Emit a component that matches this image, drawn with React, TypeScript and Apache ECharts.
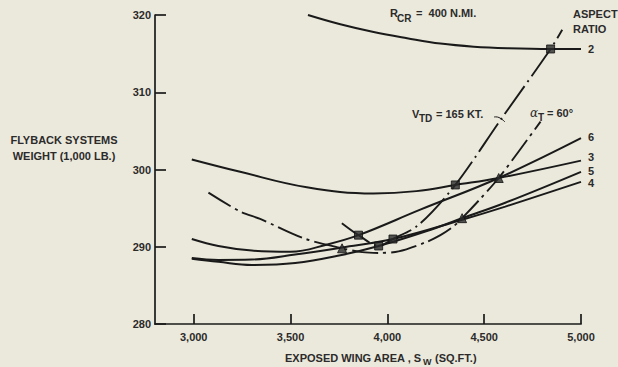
import React, { useEffect, useRef } from "react";
import * as echarts from "echarts";

// Axis ticks
const xTickValues = [3000, 3500, 4000, 4500, 5000];
const yMin = 280;
const yMax = 320;
const yStep = 10;

// Flyback systems weight (1,000 lb) vs exposed wing area (sq ft), one curve per aspect ratio
const ar2Area = [3590, 3757, 3929, 4102, 4274, 4446, 4619, 4843, 5000];
const ar2Weight = [320.0, 318.8, 317.8, 317.0, 316.3, 315.9, 315.7, 315.6, 315.6];

const ar3Area = [2990, 3240, 3584, 3929, 4150, 4351, 4575, 5000];
const ar3Weight = [301.3, 299.7, 297.7, 296.9, 297.2, 298.0, 298.9, 301.15];

const ar4Area = [2990, 3127, 3300, 3524, 3766, 4029, 4386, 4609, 5000];
const ar4Weight = [288.55, 288.3, 288.35, 289.0, 289.9, 291.0, 293.5, 295.2, 298.4];

const ar5Area = [2990, 3127, 3300, 3524, 3757, 3955, 4200, 4386, 4609, 5000];
const ar5Weight = [288.45, 288.05, 287.65, 287.9, 288.9, 290.1, 292.0, 293.7, 295.7, 299.7];

const ar6Area = [2990, 3127, 3300, 3500, 3690, 3851, 4170, 4575, 5000];
const ar6Weight = [291.0, 290.1, 289.5, 289.35, 290.3, 291.5, 294.8, 298.9, 304.05];

// Touchdown speed constraint, V_TD = 165 kt
const vtdArea = [3765, 3851, 3955, 4029, 4160, 4351, 4584, 4843, 4903];
const vtdWeight = [293.05, 291.5, 290.1, 291.0, 292.8, 298.0, 306.4, 315.6, 318.1];
const vtdPointArea = [3851, 3955, 4029, 4351, 4843];
const vtdPointWeight = [291.5, 290.1, 291.0, 298.0, 315.6];

// Tip-back angle constraint, alpha_T = 60 deg
const alphaArea = [3076, 3240, 3343, 3567, 3766, 3870, 3955, 4058, 4200, 4274, 4340, 4386, 4480, 4575, 4680, 4791];
const alphaWeight = [297.0, 294.55, 293.6, 291.1, 289.8, 289.3, 289.2, 289.4, 290.6, 291.5, 292.6, 293.7, 296.2, 298.9, 302.4, 306.2];
const alphaPointArea = [3766, 4386, 4575];
const alphaPointWeight = [289.8, 293.7, 298.9];

const arLabels = ["2", "3", "4", "5", "6"];
// small vertical nudges so the stacked end labels don't collide
const arLabelNudge = [0, -4, 1.5, -1, -1];

const INK = "#1a1a1a";
const TEXT = "#2b2b2b";
const BG = "#ebe9db";
const FONT = "'Liberation Sans', Arial, Helvetica, sans-serif";

const zip = (xs: number[], ys: number[]) => xs.map((x, i) => [x, ys[i]]);
const withCommas = (v: number) => String(v).replace(/\B(?=(\d{3})+(?!\d))/g, ",");

function txt(x: number, y: number, text: string, size = 11, align = "left") {
  return {
    type: "text",
    x,
    y,
    silent: true,
    style: {
      text,
      fill: TEXT,
      fontSize: size,
      fontWeight: "bold",
      fontFamily: FONT,
      align,
      verticalAlign: "middle",
    },
  };
}

export default function App() {
  const ref = useRef<HTMLDivElement>(null);

  useEffect(() => {
    document.body.style.margin = "0";
    document.body.style.background = BG;
    if (!ref.current) return;
    const chart = echarts.init(ref.current, undefined, { renderer: "svg" });

    const curves = [
      zip(ar2Area, ar2Weight),
      zip(ar3Area, ar3Weight),
      zip(ar4Area, ar4Weight),
      zip(ar5Area, ar5Weight),
      zip(ar6Area, ar6Weight),
    ];

    const curveSeries = curves.map((data, i) => ({
      type: "line",
      name: "AR " + arLabels[i],
      data,
      smooth: 0.4,
      symbol: "none",
      lineStyle: { color: INK, width: 2 },
      endLabel: {
        show: true,
        formatter: arLabels[i],
        color: TEXT,
        fontSize: 11,
        lineHeight: 11,
        fontWeight: "bold",
        fontFamily: FONT,
        distance: 7,
        offset: [0, arLabelNudge[i]],
      },
      z: 2,
    }));

    const option = {
      animation: false,
      backgroundColor: BG,
      grid: { left: 155, right: 37, top: 15, bottom: 43, containLabel: false },
      xAxis: {
        type: "value",
        min: 2800,
        max: 5000,
        axisLine: { show: true, lineStyle: { color: INK, width: 1.7 } },
        axisTick: {
          show: true,
          inside: true,
          length: 10,
          customValues: xTickValues,
          lineStyle: { color: INK, width: 1.7 },
        },
        axisLabel: {
          customValues: xTickValues,
          formatter: (v: number) => withCommas(v),
          color: TEXT,
          fontSize: 11,
          fontWeight: "bold",
          fontFamily: FONT,
          margin: 7,
        },
        splitLine: { show: false },
      },
      yAxis: {
        type: "value",
        min: yMin,
        max: yMax,
        interval: yStep,
        axisLine: { show: true, lineStyle: { color: INK, width: 1.7 } },
        axisTick: { show: true, inside: true, length: 11, lineStyle: { color: INK, width: 1.7 } },
        axisLabel: {
          color: TEXT,
          fontSize: 11,
          fontWeight: "bold",
          fontFamily: FONT,
          margin: 4,
        },
        splitLine: { show: false },
      },
      series: [
        ...curveSeries,
        {
          type: "line",
          name: "V_TD",
          data: zip(vtdArea, vtdWeight),
          smooth: 0.3,
          symbol: "none",
          lineStyle: { color: INK, width: 1.9, type: [34, 5, 2, 5] },
          z: 3,
        },
        {
          type: "line",
          name: "alpha_T",
          data: zip(alphaArea, alphaWeight),
          smooth: 0.3,
          symbol: "none",
          lineStyle: { color: INK, width: 1.9, type: [26, 5, 3, 5] },
          z: 3,
        },
        {
          type: "scatter",
          name: "V_TD points",
          data: zip(vtdPointArea, vtdPointWeight),
          symbol: "rect",
          symbolSize: 8,
          itemStyle: { color: "#2a2a2a", borderColor: "#111", borderWidth: 1 },
          z: 5,
        },
        {
          type: "scatter",
          name: "alpha_T points",
          data: zip(alphaPointArea, alphaPointWeight),
          symbol: "triangle",
          symbolSize: 9,
          itemStyle: { color: "#2a2a2a", borderColor: "#111", borderWidth: 1 },
          z: 5,
        },
      ],
      graphic: [
        // y-axis title
        txt(64, 140, "FLYBACK SYSTEMS", 11, "center"),
        txt(64, 156, "WEIGHT (1,000 LB.)", 11, "center"),
        // x-axis title
        txt(285, 357.5, "EXPOSED WING AREA , S", 11),
        txt(423, 361.5, "W", 9),
        txt(435, 357.5, "(SQ.FT.)", 11),
        // cruise range
        txt(390, 13, "R", 11),
        txt(397, 18.5, "CR", 10),
        txt(416, 13, "=  400 N.MI.", 11),
        // legend heading
        txt(573, 14, "ASPECT", 11),
        txt(573, 29, "RATIO", 11),
        // constraint labels
        txt(412, 114, "V", 11),
        txt(419, 118.5, "TD", 10),
        txt(436, 114, "= 165 KT.", 11),
        {
          type: "polyline",
          silent: true,
          shape: { points: [[494, 117], [499, 117.5], [505, 122]], smooth: 0.5 },
          style: { stroke: INK, lineWidth: 1, fill: "none" },
        },
        {
          type: "text",
          x: 530,
          y: 113,
          silent: true,
          style: {
            text: "α",
            fill: TEXT,
            fontSize: 12,
            fontStyle: "italic",
            fontFamily: "'DejaVu Serif', serif",
            align: "left",
            verticalAlign: "middle",
          },
        },
        txt(538, 117.5, "T", 10),
        txt(547, 113, "= 60°", 11),
      ],
    };

    chart.setOption(option as any);
    return () => chart.dispose();
  }, []);

  return <div ref={ref} style={{ width: 618, height: 367, background: BG }} />;
}
